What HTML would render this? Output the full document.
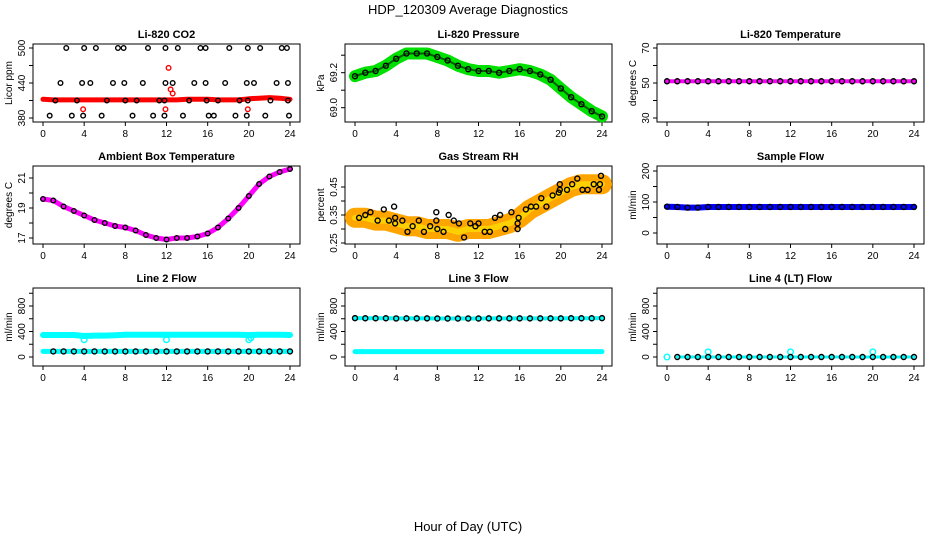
<!DOCTYPE html>
<html><head><meta charset="utf-8">
<style>
body{margin:0;background:#fff;}
svg{display:block;font-family:"Liberation Sans",sans-serif;}
</style></head>
<body>
<svg id="chart" width="936" height="540" viewBox="0 0 936 540">
<text x="468" y="14" text-anchor="middle" font-size="13">HDP_120309  Average Diagnostics</text>
<text x="468" y="531" text-anchor="middle" font-size="13">Hour of Day (UTC)</text>
</svg>
<script>
// ---- data ----
const hours = [0,1,2,3,4,5,6,7,8,9,10,11,12,13,14,15,16,17,18,19,20,21,22,23,24];
const xTicks = [0,4,8,12,16,20,24];
// CO2
const co2Red = [412,411,411,411,411,411,411,411,411,411,411,411,411,411,412,412,412,411,411,411,413,414,415,414,412];
const co2BlackH = [2.26,4.0,5.14,7.28,7.83,10.2,11.9,13.1,15.3,15.8,18.1,19.9,21.1,23.2,23.7, 1.7,3.8,4.6,6.8,7.9,9.7,11.9,12.6,14.7,15.8,17.7,19.8,20.5,22.7,23.8, 1.2,3.3,6.2,8.0,9.1,11.3,11.8,14.2,15.9,17.0,19.1,19.9,22.1,23.8, 0.65,2.8,3.9,5.7,8.7,10.7,11.8,13.6,16.1,16.6,18.7,19.8,21.6,23.9];
const co2BlackV = [500,500,500,500,500,500,500,500,500,500,500,500,500,500,500, 440,440,440,440,440,440,440,440,440,440,440,440,440,440,440, 410,410,410,410,410,410,410,410,410,410,410,410,410,410, 384,384,384,384,384,384,384,384,384,384,384,384,384,384];
const co2OutH = [3.9,11.9,12.2,12.4,12.6,19.9];
const co2OutV = [395,395,466,429,422,395];
// Pressure
const pres = [69.18,69.20,69.21,69.24,69.28,69.31,69.31,69.31,69.29,69.27,69.24,69.22,69.21,69.21,69.20,69.21,69.22,69.21,69.19,69.16,69.11,69.06,69.02,68.98,68.95];
// Li-820 temperature
const licorT = [51,51,51,51,51,51,51,51,51,51,51,51,51,51,51,51,51,51,51,51,51,51,51,51,51];
// Ambient box temperature
const ambT = [19.6,19.5,19.1,18.8,18.5,18.2,18.0,17.8,17.7,17.5,17.2,17.0,16.9,17.0,17.0,17.1,17.3,17.7,18.3,19.0,19.8,20.6,21.1,21.4,21.6];
// RH
const rh = [0.34,0.34,0.33,0.33,0.32,0.31,0.31,0.30,0.30,0.30,0.29,0.30,0.30,0.30,0.31,0.32,0.34,0.37,0.39,0.41,0.43,0.45,0.46,0.46,0.46];
const rhPtH = [0.4,1.0,1.5,2.2,2.8,3.3,3.8,3.9,3.9,4.6,5.1,5.6,6.2,6.7,7.3,7.9,7.9,8.0,8.6,9.1,9.6,10.1,10.6,11.2,11.7,12.0,12.6,13.1,13.6,14.1,14.6,15.2,15.8,15.8,15.9,16.6,17.1,17.6,18.1,18.6,19.2,19.8,19.9,19.9,20.6,21.1,21.6,22.1,22.6,23.2,23.7,23.8,23.9];
const rhPtV = [0.34,0.35,0.36,0.33,0.37,0.33,0.38,0.34,0.32,0.33,0.29,0.31,0.33,0.29,0.31,0.36,0.33,0.30,0.29,0.35,0.33,0.32,0.27,0.32,0.31,0.32,0.29,0.29,0.34,0.35,0.30,0.36,0.30,0.32,0.34,0.37,0.38,0.38,0.41,0.38,0.42,0.43,0.46,0.44,0.44,0.46,0.48,0.44,0.44,0.46,0.44,0.46,0.49];
// Sample flow
const sampleFlow = [85,84,82,82,84,84,84,84,84,84,84,84,84,84,84,84,84,84,84,84,84,84,84,84,84];
// Line flows
const l2Cyan = [345,345,345,345,330,335,335,340,350,350,350,350,350,350,350,350,350,350,350,350,345,350,350,350,345];
const l2Black = [88,88,88,88,88,88,88,88,88,88,88,88,88,88,88,88,88,88,88,88,88,88,88,88,88];
const l2DipH = [4,12,20,20.2];
const l2DipV = [270,270,270,300];
const l3Top = [610,608,608,608,605,606,606,606,604,604,604,604,604,606,606,606,606,606,606,606,606,608,608,608,610];
const l3Bot = [85,85,85,85,85,85,85,85,85,85,85,85,85,85,85,85,85,85,85,85,85,85,85,85,85];
const l4Black = [0,0,0,0,0,0,0,0,0,0,0,0,0,0,0,0,0,0,0,0,0,0,0,0,0];
const l4SpikeH = [0,4,12,20];
const l4SpikeV = [0,80,80,80];

// ---- rendering ----
const svg = document.getElementById('chart');
const NS = 'http://www.w3.org/2000/svg';
function mk(tag, attrs, parent){
  const e = document.createElementNS(NS, tag);
  for (const k in attrs) e.setAttribute(k, attrs[k]);
  (parent||svg).appendChild(e);
  return e;
}
const colX = [33,345,657], rowY = [44,166,288], BW = 267, BH = 78;

function panel(col, row, title, ylab, v1, p1, v2, p2, ticks, labels, fmt){
  const bx = colX[col], by = rowY[row];
  const g = mk('g', {});
  
  
  const xs = h => bx + 10 + h * 247 / 24;
  const ys = v => p1 + (v - v1) * (p2 - p1) / (v2 - v1);
  const t = mk('text', {x: bx + BW/2, y: by - 6, 'text-anchor':'middle', 'font-size':11, 'font-weight':'bold'}, g);
  t.textContent = title;
  
  
  const box = mk('rect', {x:bx, y:by, width:BW, height:BH, fill:'none', stroke:'#000', 'stroke-width':1}, g);
  
  
  // x axis
  const xa = mk('g', {}, g);
  
  
  mk('line', {x1:xs(0), x2:xs(24), y1:by+BH, y2:by+BH, stroke:'#000'}, xa);
  xTicks.forEach(h => {
    mk('line', {x1:xs(h), x2:xs(h), y1:by+BH, y2:by+BH+4, stroke:'#000'}, xa);
    const tl = mk('text', {x:xs(h), y:by+BH+15, 'text-anchor':'middle', 'font-size':10}, xa);
    tl.textContent = h;
    
    
  });
  // y axis
  const ya = mk('g', {}, g);
  
  
  mk('line', {x1:bx, x2:bx, y1:ys(ticks[0]), y2:ys(ticks[ticks.length-1]), stroke:'#000'}, ya);
  ticks.forEach(v => {
    mk('line', {x1:bx-4, x2:bx, y1:ys(v), y2:ys(v), stroke:'#000'}, ya);
  });
  labels.forEach(v => {
    const yl = mk('text', {x:0, y:0, 'text-anchor':'middle', 'font-size':10, transform:`translate(${bx-8},${ys(v)}) rotate(-90)`}, ya);
    yl.textContent = fmt ? fmt(v) : v;
    
    
  });
  const yt = mk('text', {x:0, y:0, 'text-anchor':'middle', 'font-size':10, transform:`translate(${bx-21},${by+BH/2}) rotate(-90)`}, g);
  yt.textContent = ylab;
  
  
  const data = mk('g', {}, g);
  
  
  return {xs, ys, g:data};
}
function line(P, hs, vs, color, w, name){
  const pts = hs.map((h,i) => P.xs(h).toFixed(1) + ',' + P.ys(vs[i]).toFixed(1)).join(' ');
  const pl = mk('polyline', {points:pts, fill:'none', stroke:color, 'stroke-width':w, 'stroke-linejoin':'round', 'stroke-linecap':'round'}, P.g);
  
  
}
function pts(P, hs, vs, color, r, name){
  hs.forEach((h,i) => {
    const c = mk('circle', {cx:P.xs(h), cy:P.ys(vs[i]), r:r, fill:'none', stroke:color, 'stroke-width':1.4}, P.g);
    
    
  });
}
function halfPts(P, vs, color, r, name){
  // points at each hour and mid-hour between observed hourly values
  pts(P, hours, vs, color, r, name);
}

// Li-820 CO2
let P = panel(0,0,'Li-820 CO2','Licor ppm',380,118,500,48,[380,410,440,470,500],[380,440,500]);
line(P, hours, co2Red, '#f00', 5, 'co2-red-series');
pts(P, co2BlackH, co2BlackV, '#000', 2.3, 'co2-point');
pts(P, co2OutH, co2OutV, '#f00', 2.3, 'co2-outlier');

// Pressure
P = panel(1,0,'Li-820 Pressure','kPa',69.0,107.7,69.2,72.7,[69.0,69.1,69.2,69.3],[69.0,69.2], v=>v.toFixed(1));
line(P, hours, pres, '#00e000', 12, 'pressure-band');
line(P, hours, pres, '#006000', 2, 'pressure-core');
pts(P, hours, pres, '#000', 2.5, 'pressure-point');

// Li-820 Temperature
P = panel(2,0,'Li-820 Temperature','degrees C',30,118,70,48,[30,40,50,60,70],[30,50,70]);
line(P, hours, licorT, '#f0f', 4, 'licor-temp-line');
pts(P, hours, licorT, '#000', 2.5, 'licor-temp-point');

// Ambient
P = panel(0,1,'Ambient Box Temperature','degrees C',17,238,21,178,[17,18,19,20,21],[17,19,21]);
line(P, hours, ambT, '#f0f', 5, 'ambient-temp-line');
pts(P, hours, ambT, '#000', 2.3, 'ambient-temp-point');

// RH
P = panel(1,1,'Gas Stream RH','percent',0.25,243,0.45,187,[0.25,0.30,0.35,0.40,0.45],[0.25,0.35,0.45], v=>v.toFixed(2));
line(P, hours, rh, '#ffa500', 20, 'rh-band');
line(P, hours, rh, '#ffd000', 6, 'rh-band-core');
pts(P, rhPtH, rhPtV, '#000', 2.5, 'rh-point');

// Sample Flow
P = panel(2,1,'Sample Flow','ml/min',0,233,200,171,[0,50,100,150,200],[0,100,200]);
line(P, hours, sampleFlow, '#0000ff', 6, 'sample-flow-line');
pts(P, hours, sampleFlow, '#000', 2.5, 'sample-flow-point');

// Line 2
P = panel(0,2,'Line 2 Flow','ml/min',0,357,800,306,[0,200,400,600,800,1000],[0,400,800]);
line(P, hours, l2Cyan, '#00ffff', 6, 'line2-cyan-line');
pts(P, l2DipH, l2DipV, '#00ffff', 2.8, 'line2-dip');
line(P, hours, l2Black, '#00ffff', 5, 'line2-low-cyan');
pts(P, hours.slice(1), l2Black.slice(1), '#000', 2.5, 'line2-point');

// Line 3
P = panel(1,2,'Line 3 Flow','ml/min',0,357,800,306,[0,200,400,600,800,1000],[0,400,800]);
line(P, hours, l3Top, '#00ffff', 4, 'line3-top-cyan');
pts(P, hours, l3Top, '#000', 2.5, 'line3-point');
line(P, hours, l3Bot, '#00ffff', 5, 'line3-bottom-cyan');

// Line 4
P = panel(2,2,'Line 4 (LT) Flow','ml/min',0,357,800,306,[0,200,400,600,800,1000],[0,400,800]);
pts(P, l4SpikeH, l4SpikeV, '#00ffff', 2.8, 'line4-spike');
line(P, hours.slice(1), l4Black.slice(1), '#00ffff', 3, 'line4-cyan');
pts(P, hours.slice(1), l4Black.slice(1), '#000', 2.5, 'line4-point');
</script>
</body></html>
